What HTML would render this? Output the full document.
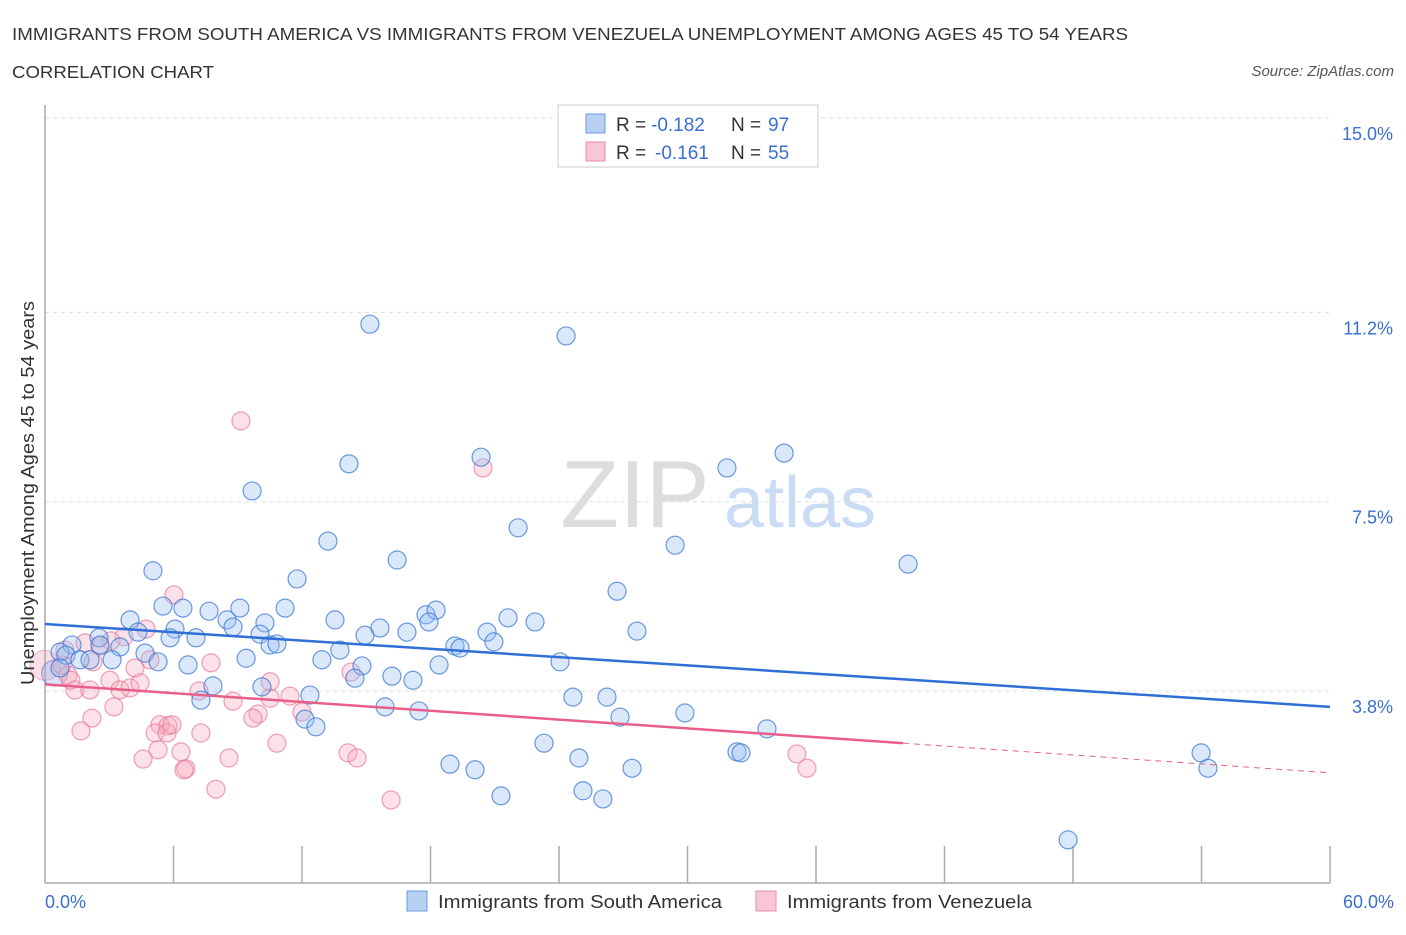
<!DOCTYPE html>
<html><head><meta charset="utf-8"><style>
body{margin:0;background:#fff;font-family:"Liberation Sans",sans-serif;}
svg text{font-family:"Liberation Sans",sans-serif;}
</style></head><body>
<svg width="1406" height="930" xmlns="http://www.w3.org/2000/svg">
<text x="12" y="40" font-size="17.5" fill="#333" textLength="1116" lengthAdjust="spacingAndGlyphs">IMMIGRANTS FROM SOUTH AMERICA VS IMMIGRANTS FROM VENEZUELA UNEMPLOYMENT AMONG AGES 45 TO 54 YEARS</text>
<text x="12" y="78" font-size="17.5" fill="#333" textLength="202" lengthAdjust="spacingAndGlyphs">CORRELATION CHART</text>
<text x="1394" y="76" font-size="15" fill="#555" font-style="italic" text-anchor="end">Source: ZipAtlas.com</text>
<g>
<text x="635" y="527" font-size="96" fill="#ddd" text-anchor="middle" font-family="Liberation Serif,serif">ZIP</text>
<text x="800" y="527" font-size="72" fill="#c9dcf3" text-anchor="middle">atlas</text>
</g>
<g id="grid"></g>
<g id="axes"></g>
<g id="pts"></g>
<g id="lines"></g>
<text transform="translate(34,493) rotate(-90)" font-size="18" fill="#333" text-anchor="middle" textLength="384" lengthAdjust="spacingAndGlyphs">Unemployment Among Ages 45 to 54 years</text>
<text x="45" y="908" font-size="18" fill="#3a6fcf">0.0%</text>
<text x="1394" y="908" font-size="18" fill="#3a6fcf" text-anchor="end">60.0%</text>
<g>
<rect x="558" y="105" width="260" height="62" fill="#fff" stroke="#ccc"/>
<rect x="586" y="114" width="19" height="19" fill="#b8d1f3" stroke="#6b9be0"/>
<rect x="586" y="142" width="19" height="19" fill="#f8c6d4" stroke="#e88fab"/>
<text x="616" y="131" font-size="19" fill="#333">R =</text>
<text x="651" y="131" font-size="19" fill="#3a6fcf">-0.182</text>
<text x="731" y="131" font-size="19" fill="#333">N =</text>
<text x="768" y="131" font-size="19" fill="#3a6fcf">97</text>
<text x="616" y="159" font-size="19" fill="#333">R =</text>
<text x="655" y="159" font-size="19" fill="#3a6fcf">-0.161</text>
<text x="731" y="159" font-size="19" fill="#333">N =</text>
<text x="768" y="159" font-size="19" fill="#3a6fcf">55</text>
</g>
<g>
<rect x="407" y="891" width="20" height="20" fill="#b8d1f3" stroke="#6b9be0"/>
<text x="438" y="908" font-size="18" fill="#333" textLength="284" lengthAdjust="spacingAndGlyphs">Immigrants from South America</text>
<rect x="756" y="891" width="20" height="20" fill="#f8c6d4" stroke="#e88fab"/>
<text x="787" y="908" font-size="18" fill="#333" textLength="245" lengthAdjust="spacingAndGlyphs">Immigrants from Venezuela</text>
</g>
</svg>
<script>
const yTicks=[15.0,11.2,7.5,3.8];
const yTickLabels=["15.0%","11.2%","7.5%","3.8%"];
const xTicks=[0,6,12,18,24,30,36,42,48,54,60];
const bluePx=[[370,324],[566,336],[349,464],[481,457],[727,468],[784,453],[252,491],[518,528],[328,541],[675,545],[397,560],[908,564],[153,571],[297,579],[617,591],[163,606],[183,608],[209,611],[240,608],[285,608],[335,620],[426,615],[436,610],[508,618],[535,622],[130,620],[227,620],[265,623],[429,622],[175,629],[233,627],[260,634],[380,628],[407,632],[487,632],[637,631],[99,638],[138,632],[170,638],[196,638],[340,650],[365,635],[270,645],[277,644],[455,646],[460,648],[494,642],[72,645],[100,645],[120,647],[145,653],[158,662],[188,665],[246,658],[322,660],[362,666],[439,665],[560,662],[60,652],[66,655],[80,660],[90,660],[112,660],[60,668],[355,678],[392,676],[413,680],[213,686],[262,687],[310,695],[201,700],[573,697],[607,697],[385,707],[419,711],[685,713],[620,717],[305,719],[316,727],[767,729],[544,743],[737,752],[741,753],[579,758],[450,764],[475,770],[632,768],[1201,753],[1208,768],[501,796],[583,791],[603,799],[1068,840]];
const pinkPx=[[241,421],[483,468],[174,595],[146,629],[124,637],[111,641],[100,646],[85,643],[65,650],[62,665],[68,675],[75,690],[90,690],[110,680],[120,690],[130,688],[140,683],[135,668],[150,660],[211,663],[71,680],[93,662],[199,691],[233,701],[270,682],[270,698],[290,696],[258,714],[253,718],[92,718],[81,731],[114,707],[160,725],[168,726],[155,733],[181,752],[167,733],[201,733],[158,750],[143,759],[186,769],[184,770],[229,758],[216,789],[277,743],[348,753],[357,758],[351,672],[391,800],[797,754],[807,768],[302,712],[172,725]];
// data values (x %, y %)
const blueX=bluePx.map(p=>+((p[0]-45)/21.417).toFixed(2));
const blueY=bluePx.map(p=>+(15-(p[1]-118)/51.16).toFixed(2));
const pinkX=pinkPx.map(p=>+((p[0]-45)/21.417).toFixed(2));
const pinkY=pinkPx.map(p=>+(15-(p[1]-118)/51.16).toFixed(2));
const blueTrend=[[0,5.11],[60,3.49]];
const pinkTrend=[[0,3.93],[40.06,2.78],[60,2.2]];
const X=v=>45+v*21.417, Y=v=>118+(15-v)*51.16;
const NS="http://www.w3.org/2000/svg";
function mk(t,a,parent){const e=document.createElementNS(NS,t);for(const k in a)e.setAttribute(k,a[k]);document.getElementById(parent).appendChild(e);return e;}
yTicks.forEach((v,i)=>{
 const g=mk('line',{x1:45,x2:1330,y1:Y(v),y2:Y(v),stroke:'#ddd','stroke-dasharray':'4,4'},'grid');
 
 
 const t=mk('text',{x:1393,y:Y(v)+22,'font-size':18,fill:'#3a6fcf','text-anchor':'end'},'grid');
 t.textContent=yTickLabels[i];
 
 
});
let a=mk('line',{x1:45,x2:45,y1:105,y2:883,stroke:'#aaa','stroke-width':1.5},'axes');


a=mk('line',{x1:45,x2:1330,y1:883,y2:883,stroke:'#aaa','stroke-width':1.5},'axes');


xTicks.slice(1).forEach(v=>{const t=mk('line',{x1:X(v),x2:X(v),y1:846,y2:883,stroke:'#aaa','stroke-width':1.5},'axes');
 
 });
let big=mk('circle',{cx:X(0),cy:Y(4.3),r:15,fill:'rgba(240,150,175,0.3)',stroke:'rgba(232,120,155,0.5)'},'pts');


big=mk('circle',{cx:X(0.45),cy:Y(4.15),r:13,fill:'rgba(130,170,230,0.3)',stroke:'rgba(60,120,210,0.6)'},'pts');


pinkX.forEach((x,i)=>{const c=mk('circle',{cx:X(x),cy:Y(pinkY[i]),r:9,fill:'rgba(245,170,190,0.35)',stroke:'rgba(232,120,155,0.7)','stroke-width':1.2},'pts');
 
 });
blueX.forEach((x,i)=>{const c=mk('circle',{cx:X(x),cy:Y(blueY[i]),r:9,fill:'rgba(150,190,240,0.35)',stroke:'rgba(60,120,210,0.75)','stroke-width':1.2},'pts');
 
 });
let l=mk('line',{x1:X(blueTrend[0][0]),y1:Y(blueTrend[0][1]),x2:X(blueTrend[1][0]),y2:Y(blueTrend[1][1]),stroke:'#2f6fd6','stroke-width':2.5},'lines');


l=mk('line',{x1:X(pinkTrend[0][0]),y1:Y(pinkTrend[0][1]),x2:X(pinkTrend[1][0]),y2:Y(pinkTrend[1][1]),stroke:'#e8608a','stroke-width':2.5},'lines');


l=mk('line',{x1:X(pinkTrend[1][0]),y1:Y(pinkTrend[1][1]),x2:X(pinkTrend[2][0]),y2:Y(pinkTrend[2][1]),stroke:'#e8608a','stroke-width':1,'stroke-dasharray':'6,5'},'lines');


</script>
</body></html>
